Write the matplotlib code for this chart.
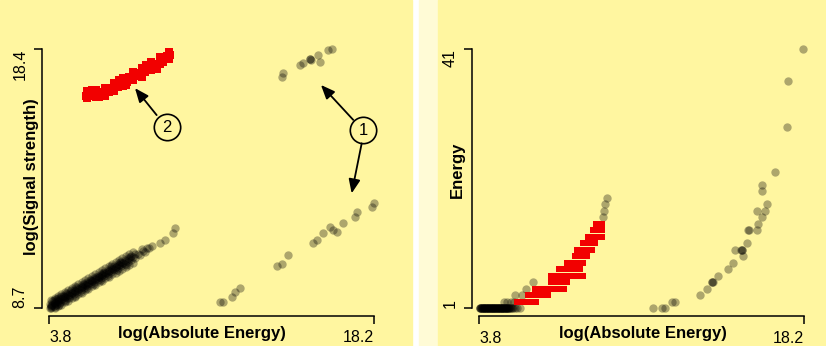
import matplotlib.pyplot as plt
from matplotlib.patches import Rectangle
import numpy as np

plt.rcParams['font.family'] = ['Liberation Sans', 'DejaVu Sans']

# ---- left panel: log(Absolute Energy) vs log(Signal strength) ----
left_grey = [
    (3.85, 8.70), (3.85, 8.85), (3.92, 8.80), (3.90, 8.72), (4.00, 8.76), (4.00, 8.92),
    (4.07, 8.88), (4.10, 8.80), (4.00, 8.98), (4.15, 8.84), (4.15, 9.00), (4.22, 8.95),
    (4.20, 9.06), (4.30, 8.91), (4.30, 9.07), (4.37, 9.03), (4.30, 8.86), (4.40, 9.12),
    (4.45, 8.98), (4.45, 9.14), (4.52, 9.10), (4.60, 9.06), (4.60, 9.22), (4.67, 9.17),
    (4.75, 9.13), (4.75, 9.29), (4.82, 9.25), (4.90, 9.21), (4.90, 9.37), (4.97, 9.32),
    (5.05, 9.28), (5.05, 9.44), (5.12, 9.40), (5.20, 9.36), (5.20, 9.52), (5.27, 9.47),
    (5.35, 9.43), (5.35, 9.59), (5.42, 9.55), (5.50, 9.51), (5.50, 9.67), (5.57, 9.62),
    (5.65, 9.58), (5.65, 9.74), (5.72, 9.70), (5.80, 9.66), (5.80, 9.82), (5.87, 9.77),
    (5.95, 9.73), (5.95, 9.89), (6.02, 9.85), (6.10, 9.81), (6.10, 9.97), (6.17, 9.92),
    (6.25, 9.88), (6.25, 10.04), (6.32, 9.99), (6.40, 9.96), (6.40, 10.12), (6.47, 10.07),
    (6.55, 10.03), (6.55, 10.19), (6.62, 10.14), (6.70, 10.11), (6.70, 10.27), (6.77, 10.22),
    (6.85, 10.18), (6.85, 10.34), (6.92, 10.29), (7.00, 10.25), (7.00, 10.41), (7.07, 10.37),
    (7.15, 10.33), (7.15, 10.49), (7.30, 10.40), (7.30, 10.56), (7.45, 10.48), (7.45, 10.64),
    (7.60, 10.55), (7.60, 10.71), (7.75, 10.72), (7.85, 10.66), (7.95, 10.82), (8.05, 10.78),
    (8.15, 10.92), (8.25, 10.95), (7.90, 10.90), (8.35, 11.02), (8.72, 11.11), (8.94, 11.23),
    (9.31, 11.48), (9.38, 11.67),
    (3.88, 8.74), (3.95, 8.95), (4.05, 8.72), (4.12, 9.03), (4.25, 8.80), (4.35, 9.12),
    (4.50, 8.93), (4.55, 9.25), (4.70, 9.05), (4.78, 9.35), (4.95, 9.15), (5.00, 9.47),
    (5.20, 9.28), (5.30, 9.60), (5.50, 9.45), (5.60, 9.72), (5.80, 9.58), (5.90, 9.85),
    (6.10, 9.72), (6.20, 10.00), (6.40, 9.88), (6.55, 10.25), (6.80, 10.10), (6.95, 10.40),
    (7.20, 10.28), (7.40, 10.60),
    (3.90, 8.70), (3.90, 8.99), (3.90, 8.79), (4.05, 8.70), (4.05, 9.07), (4.05, 8.87),
    (4.20, 8.74), (4.20, 9.14), (4.20, 8.94), (4.35, 8.81), (4.35, 9.21), (4.35, 9.01),
    (4.50, 8.89), (4.50, 9.29), (4.50, 9.09), (4.65, 8.96), (4.65, 9.36), (4.65, 9.16),
    (4.80, 9.04), (4.80, 9.44), (4.80, 9.24), (4.95, 9.11), (4.95, 9.51), (4.95, 9.31),
    (5.10, 9.19), (5.10, 9.59), (5.10, 9.39), (5.25, 9.26), (5.25, 9.66), (5.25, 9.46),
    (5.40, 9.34), (5.40, 9.74), (5.40, 9.54), (5.55, 9.41), (5.55, 9.81), (5.55, 9.61),
    (5.70, 9.49), (5.70, 9.89), (5.70, 9.69), (5.85, 9.56), (5.85, 9.96), (5.85, 9.76),
    (6.00, 9.64), (6.00, 10.04), (6.00, 9.84), (6.15, 9.71), (6.15, 10.11), (6.15, 9.91),
    (6.30, 9.79), (6.30, 10.19), (6.30, 9.99), (6.45, 9.86), (6.45, 10.26), (6.45, 10.06),
    (6.60, 9.94), (6.60, 10.34), (6.60, 10.14), (6.75, 10.01), (6.75, 10.41), (6.75, 10.21),
    (6.90, 10.08), (6.90, 10.48), (6.90, 10.28), (7.05, 10.16), (7.05, 10.56), (7.05, 10.36),
    (7.20, 10.23), (7.20, 10.63), (7.20, 10.43), (7.35, 10.31), (7.35, 10.71), (7.35, 10.51),
    (7.50, 10.38), (7.50, 10.78), (7.50, 10.58),
    # far group, lower branch
    (11.38, 8.91), (11.52, 8.92), (11.89, 9.11), (12.04, 9.29), (12.26, 9.42), (13.89, 10.26),
    (14.11, 10.33), (14.40, 10.67), (15.51, 11.13), (15.66, 11.23), (15.95, 11.48),
    (16.25, 11.73), (16.40, 11.61), (16.55, 11.54), (16.84, 11.86), (17.36, 12.11),
    (17.43, 12.29), (18.10, 12.48), (18.20, 12.62),
    # far group, upper branch
    (14.11, 17.36), (14.18, 17.49), (14.92, 17.80), (15.07, 17.86), (15.36, 18.02),
    (15.36, 18.02), (15.40, 17.98), (15.73, 18.17), (15.81, 17.92), (16.18, 18.36),
    (16.33, 18.40),
]
left_red = [
    (5.45, 16.62), (5.55, 16.70), (5.65, 16.64), (5.75, 16.72), (5.85, 16.66), (5.95, 16.74),
    (6.05, 16.68), (6.15, 16.78), (6.25, 16.72), (6.35, 16.85), (6.45, 16.80), (6.55, 16.95),
    (6.65, 16.88), (6.75, 17.05), (6.85, 16.98), (6.95, 17.15), (7.05, 17.08), (7.15, 17.25),
    (7.25, 17.18), (7.35, 17.35), (7.45, 17.28), (7.55, 17.42), (7.65, 17.38), (7.75, 17.50),
    (7.85, 17.45), (7.95, 17.60), (8.05, 17.55), (8.15, 17.68), (8.25, 17.62), (8.35, 17.78),
    (8.45, 17.72), (8.55, 17.85), (8.65, 17.82), (8.75, 17.95), (8.85, 17.92), (8.95, 18.05),
    (9.05, 18.12), (9.15, 18.18), (5.70, 16.85), (6.30, 16.95), (6.90, 17.25), (7.50, 17.55),
    (8.10, 17.80), (8.70, 18.05), (6.00, 16.58), (7.20, 17.05), (7.90, 17.35), (8.60, 17.65),
    (5.50, 16.56), (5.50, 16.84), (5.90, 16.58), (5.90, 16.86), (6.30, 16.64), (6.30, 16.92),
    (6.70, 16.84), (6.70, 17.12), (7.10, 17.03), (7.10, 17.31), (7.50, 17.23), (7.50, 17.51),
    (7.90, 17.42), (7.90, 17.70), (8.30, 17.62), (8.30, 17.90), (8.70, 17.82), (8.70, 18.10),
    (9.10, 18.01), (9.10, 18.29),
]

# ---- right panel: log(Absolute Energy) vs Energy ----
right_grey = [
    (3.84, 1), (3.88, 1), (3.92, 1), (3.96, 1), (4.00, 1), (4.04, 1), (4.08, 1), (4.12, 1),
    (4.16, 1), (4.20, 1), (4.24, 1), (4.28, 1), (4.32, 1), (4.36, 1), (4.40, 1), (4.44, 1),
    (4.48, 1), (4.52, 1), (4.56, 1), (4.60, 1), (4.64, 1), (4.68, 1), (4.72, 1), (4.76, 1),
    (4.80, 1), (4.84, 1), (4.88, 1), (4.92, 1), (4.96, 1), (5.00, 1), (5.05, 1), (5.10, 1),
    (5.15, 1), (5.20, 1), (5.30, 1), (5.40, 1), (5.50, 1), (5.60, 1),
    (3.86, 1), (3.94, 1), (4.02, 1), (4.10, 1), (4.18, 1), (4.26, 1), (4.34, 1), (4.42, 1),
    (4.50, 1), (4.58, 1), (4.66, 1), (4.74, 1), (4.82, 1), (4.90, 1), (4.98, 1), (5.08, 1),
    (5.18, 1), (5.26, 1),
    (3.85, 1), (3.91, 1), (3.97, 1), (4.03, 1), (4.09, 1), (4.15, 1), (4.21, 1), (4.27, 1),
    (4.33, 1), (4.39, 1), (4.45, 1), (4.51, 1), (4.57, 1), (4.63, 1), (4.69, 1), (4.75, 1),
    (4.81, 1), (4.87, 1), (4.93, 1), (5.00, 1), (5.06, 1), (5.12, 1),
    (4.90, 2), (5.05, 2), (5.20, 2), (5.35, 2), (5.40, 3), (5.70, 3), (5.90, 4), (6.20, 5),
    (9.30, 15), (9.35, 16), (9.40, 17), (9.46, 18),
    # far group
    (11.52, 1), (11.89, 1), (12.04, 1), (12.34, 2), (12.50, 2), (13.60, 3), (13.89, 4),
    (14.11, 5), (14.11, 5), (14.15, 5), (14.40, 6), (14.85, 7), (15.07, 8), (15.51, 9),
    (15.14, 10), (15.44, 10), (15.44, 10), (15.40, 10), (15.66, 11), (15.73, 13),
    (15.76, 13), (16.10, 13), (16.18, 14), (16.33, 15), (16.10, 16), (16.48, 16),
    (16.55, 17), (16.33, 19), (16.33, 20), (16.91, 22), (17.43, 29), (17.50, 36),
    (18.17, 41),
]
right_red = [
    (5.50, 2), (5.62, 2), (5.74, 2), (5.86, 2), (5.98, 2), (6.10, 2), (6.22, 2), (6.32, 2),
    (5.95, 3), (6.07, 3), (6.19, 3), (6.31, 3), (6.43, 3), (6.55, 3), (6.67, 3), (6.79, 3),
    (6.86, 3),
    (6.30, 4), (6.42, 4), (6.54, 4), (6.66, 4), (6.78, 4), (6.90, 4), (7.02, 4), (7.14, 4),
    (7.26, 4), (7.38, 4), (7.55, 4),
    (6.97, 5), (7.09, 5), (7.21, 5), (7.33, 5), (7.45, 5), (7.57, 5), (7.68, 5),
    (6.97, 6), (7.09, 6), (7.21, 6), (7.33, 6), (7.45, 6), (7.57, 6), (7.69, 6), (7.81, 6),
    (7.93, 6), (8.05, 6), (8.17, 6), (8.29, 6), (8.40, 6),
    (7.36, 7), (7.48, 7), (7.60, 7), (7.72, 7), (7.84, 7), (7.96, 7), (8.08, 7), (8.20, 7),
    (8.27, 7),
    (7.72, 8), (7.84, 8), (7.96, 8), (8.08, 8), (8.20, 8), (8.32, 8), (8.40, 8),
    (8.07, 9), (8.19, 9), (8.31, 9), (8.43, 9), (8.57, 9),
    (8.16, 10), (8.28, 10), (8.40, 10), (8.52, 10), (8.64, 10), (8.79, 10),
    (8.43, 11), (8.55, 11), (8.67, 11), (8.79, 11), (8.92, 11),
    (8.61, 12), (8.73, 12), (8.85, 12), (8.97, 12), (9.09, 12), (9.23, 12),
    (8.83, 13), (8.95, 13), (9.07, 13), (9.19, 13), (9.27, 13),
    (9.00, 14), (9.12, 14), (9.23, 14),
]

left_xticks = [3.8, 18.2]
left_yticks = [8.7, 18.4]
right_xticks = [3.8, 18.2]
right_yticks = [1, 41]

# callouts on the left panel: label, circle centre, arrows (start, tip)
callouts = [
    ("2", (9.03, 15.47), [((8.57, 15.92), (7.61, 16.93))]),
    ("1", (17.73, 15.36), [((17.28, 15.74), (15.85, 17.05)),
                           ((17.655, 14.86), (17.21, 12.985))]),
]

bg = '#fff6a0'
W, H = 826, 346
fig = plt.figure(figsize=(W / 100, H / 100), dpi=100, facecolor='white')
fig.add_artist(Rectangle((0, 0), 412 / W, 1, transform=fig.transFigure, color=bg, zorder=-5))
fig.add_artist(Rectangle((419 / W, 0), 19 / W, 1, transform=fig.transFigure, color='#fffbd6', zorder=-5))
fig.add_artist(Rectangle((438 / W, 0), 1, 1, transform=fig.transFigure, color=bg, zorder=-5))

ax1 = fig.add_axes([42 / W, 30.5 / H, 339 / W, 274.5 / H])
ax2 = fig.add_axes([472 / W, 30 / H, 339 / W, 275 / H])


def style(ax, xt, yt, xlim, ylim, xlabel, ylabel, xl_pos, yl_pos):
    ax.set_facecolor('none')
    ax.set_xlim(xlim)
    ax.set_ylim(ylim)
    for s in ['top', 'right']:
        ax.spines[s].set_visible(False)
    ax.spines['left'].set_bounds(yt[0], yt[1])
    ax.spines['bottom'].set_bounds(xt[0], xt[1])
    for s in ['left', 'bottom']:
        ax.spines[s].set_linewidth(1.1)
    ax.set_xticks(xt)
    ax.set_yticks(yt)
    ax.set_xticklabels([str(v) for v in xt])
    ax.set_yticklabels([str(v) for v in yt])
    ax.tick_params(length=5.5, width=1.1, pad=5, labelsize=11.5)
    ax.tick_params(axis='y', labelrotation=90)
    xl = ax.get_xticklabels()
    xl[0].set_ha('left')
    xl[1].set_ha('right')
    yl = ax.get_yticklabels()
    yl[0].set_va('bottom')
    yl[1].set_va('top')
    ax.set_xlabel(xlabel, fontsize=12, fontweight='bold')
    ax.set_ylabel(ylabel, fontsize=12, fontweight='bold')
    ax.xaxis.label.set_va('center')
    ax.yaxis.label.set_va('center')
    ax.yaxis.label.set_rotation_mode('default')
    ax.xaxis.set_label_coords(*xl_pos)
    ax.yaxis.set_label_coords(*yl_pos)


lg = np.array(left_grey)
lr = np.array(left_red)
ax1.plot(lg[:, 0], lg[:, 1], 'o', color='black', alpha=0.32, ms=6, mew=0)
ax1.plot(lr[:, 0], lr[:, 1], 's', color='#f20000', ms=5.3, mew=0)
style(ax1, left_xticks, left_yticks, (3.49, 18.51), (8.40, 18.70),
      'log(Absolute Energy)', 'log(Signal strength)', (0.471, -0.064), (-0.030, 0.505))

rg = np.array(right_grey)
rr = np.array(right_red)
ax2.plot(rg[:, 0], rg[:, 1], 'o', color='black', alpha=0.32, ms=6, mew=0)
ax2.plot(rr[:, 0], rr[:, 1], 's', color='#f20000', ms=5, mew=0)
style(ax2, right_xticks, right_yticks, (3.49, 18.51), (-0.2355, 42.236),
      'log(Absolute Energy)', 'Energy', (0.505, -0.062), (-0.044, 0.531))

for label, (cx, cy), arrows in callouts:
    ax1.plot(cx, cy, 'o', ms=19, mfc='none', mec='black', mew=1.2)
    ax1.text(cx, cy, label, ha='center', va='center', fontsize=12)
    for start, tip in arrows:
        ax1.annotate('', xy=tip, xytext=start,
                     arrowprops=dict(arrowstyle='-|>,head_length=0.6,head_width=0.25',
                                     color='black', lw=1.3, shrinkA=0, shrinkB=0,
                                     mutation_scale=14))

fig.savefig('out.png', dpi=100, facecolor=fig.get_facecolor())
